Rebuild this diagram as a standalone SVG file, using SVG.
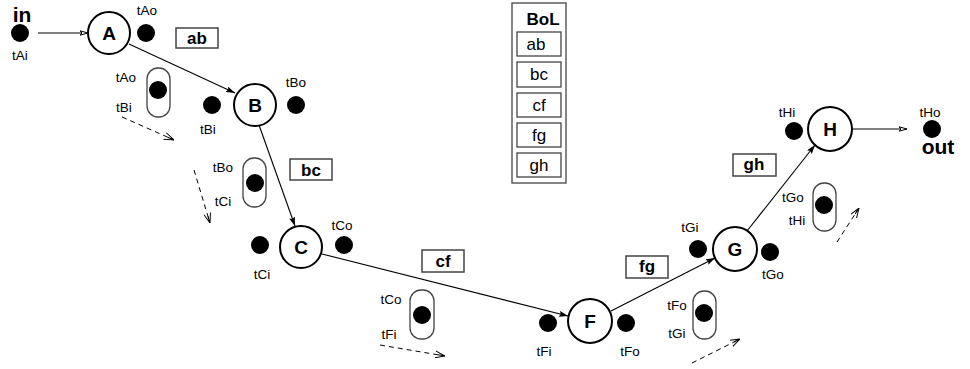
<svg xmlns="http://www.w3.org/2000/svg" width="970" height="369" viewBox="0 0 970 369">
  <style>
    .node circle { fill: #fff; stroke: #000; stroke-width: 2; }
    .node text { font: bold 19px "Liberation Sans", Arial, sans-serif; text-anchor: middle; }
    .tok { fill: #000; }
    .lbl { font: 13.5px "Liberation Sans", Arial, sans-serif; text-anchor: middle; fill: #000; }
    .big { font: bold 21px "Liberation Sans", Arial, sans-serif; text-anchor: middle; }
    .edge { stroke: #000; stroke-width: 1.1; fill: none; }
    .dash { stroke: #000; stroke-width: 1; fill: none; stroke-dasharray: 5 4; }
    .tag rect { fill: #fff; stroke: #444; stroke-width: 1.5; }
    .tag text { font: bold 17px "Liberation Sans", Arial, sans-serif; text-anchor: middle; }
    .pill { fill: #fff; stroke: #444; stroke-width: 1.3; }
    .bol rect { fill: #fff; stroke: #444; stroke-width: 1.3; }
    .bol text { font: 17px "Liberation Sans", Arial, sans-serif; text-anchor: middle; }
  </style>
  <defs>
    <marker id="solid" viewBox="0 0 9 6" refX="9" refY="3" markerWidth="9" markerHeight="6" markerUnits="userSpaceOnUse" orient="auto">
      <path d="M0,0 L9,3 L0,6 L1.5,3 Z" fill="#000"/>
    </marker>
    <marker id="hollow" viewBox="0 0 9 6" refX="8.5" refY="3" markerWidth="9" markerHeight="6" markerUnits="userSpaceOnUse" orient="auto">
      <path d="M0.5,0.8 L8.5,3 L0.5,5.2 L2.5,3 Z" fill="#fff" stroke="#000" stroke-width="1"/>
    </marker>
    <marker id="chev" viewBox="0 0 10 8" refX="10" refY="4" markerWidth="10" markerHeight="8" markerUnits="userSpaceOnUse" orient="auto">
      <path d="M0,0.5 L10,4 L0,7.5 M10,4 L3,4" fill="none" stroke="#000" stroke-width="1"/>
    </marker>
  </defs>

  <!-- connectors -->
  <g id="connectors">
    <line class="edge" x1="38" y1="33" x2="88" y2="33" marker-end="url(#hollow)"/>
    <line class="edge" x1="129" y1="44" x2="235" y2="93" marker-end="url(#solid)"/>
    <line class="edge" x1="259" y1="125" x2="295" y2="226" marker-end="url(#solid)"/>
    <line class="edge" x1="322" y1="254" x2="568" y2="316" marker-end="url(#solid)"/>
    <line class="edge" x1="611" y1="311" x2="715" y2="258" marker-end="url(#solid)"/>
    <line class="edge" x1="747" y1="231" x2="815" y2="145" marker-end="url(#solid)"/>
    <line class="edge" x1="852" y1="129" x2="907" y2="129" marker-end="url(#hollow)"/>
    <!-- token flow hints -->
    <line class="dash" x1="122" y1="117" x2="174" y2="140" marker-end="url(#chev)"/>
    <line class="dash" x1="194" y1="170" x2="210" y2="223" marker-end="url(#chev)"/>
    <line class="dash" x1="380" y1="345" x2="445" y2="356" marker-end="url(#chev)"/>
    <line class="dash" x1="692" y1="363" x2="740" y2="339" marker-end="url(#chev)"/>
    <line class="dash" x1="837" y1="242" x2="859" y2="208" marker-end="url(#chev)"/>
  </g>

  <!-- terminals -->
  <g id="in">
    <circle class="tok" cx="20" cy="33" r="9"/>
    <text class="big" x="22" y="22">in</text>
    <text class="lbl" x="20" y="60">tAi</text>
  </g>
  <g id="out">
    <circle class="tok" cx="932" cy="129" r="9"/>
    <text class="lbl" x="930" y="117">tHo</text>
    <text class="big" x="938" y="154">out</text>
  </g>

  <!-- nodes -->
  <g id="A" class="node">
    <circle cx="109" cy="33" r="21"/>
    <text x="109" y="40">A</text>
  </g>
  <g id="tA">
    <circle class="tok" cx="146" cy="33" r="9"/>
    <text class="lbl" x="147" y="15">tAo</text>
  </g>

  <g id="B" class="node">
    <circle cx="255" cy="105" r="21"/>
    <text x="255" y="112">B</text>
  </g>
  <g id="tB">
    <circle class="tok" cx="212" cy="105" r="9"/>
    <text class="lbl" x="208" y="134">tBi</text>
    <circle class="tok" cx="296" cy="105" r="9"/>
    <text class="lbl" x="296" y="87">tBo</text>
  </g>

  <g id="C" class="node">
    <circle cx="301" cy="247" r="21"/>
    <text x="301" y="254">C</text>
  </g>
  <g id="tC">
    <circle class="tok" cx="260" cy="245" r="9"/>
    <text class="lbl" x="262" y="279">tCi</text>
    <circle class="tok" cx="344" cy="245" r="9"/>
    <text class="lbl" x="342" y="230">tCo</text>
  </g>

  <g id="F" class="node">
    <circle cx="590" cy="321" r="22"/>
    <text x="590" y="328">F</text>
  </g>
  <g id="tF">
    <circle class="tok" cx="548" cy="323" r="9"/>
    <text class="lbl" x="544" y="356">tFi</text>
    <circle class="tok" cx="626" cy="323" r="9"/>
    <text class="lbl" x="630" y="356">tFo</text>
  </g>

  <g id="G" class="node">
    <circle cx="735" cy="249" r="22"/>
    <text x="735" y="256">G</text>
  </g>
  <g id="tG">
    <circle class="tok" cx="698" cy="249" r="9"/>
    <text class="lbl" x="690" y="232">tGi</text>
    <circle class="tok" cx="770" cy="252" r="9"/>
    <text class="lbl" x="773" y="279">tGo</text>
  </g>

  <g id="H" class="node">
    <circle cx="830" cy="129" r="22"/>
    <text x="830" y="136">H</text>
  </g>
  <g id="tH">
    <circle class="tok" cx="794" cy="131" r="9"/>
    <text class="lbl" x="787" y="117">tHi</text>
  </g>

  <!-- edge name tags -->
  <g id="tag-ab" class="tag"><rect x="176" y="28" width="42" height="20"/><text x="197" y="44">ab</text></g>
  <g id="tag-bc" class="tag"><rect x="290" y="159" width="42" height="21"/><text x="311" y="176">bc</text></g>
  <g id="tag-cf" class="tag"><rect x="422" y="250" width="42" height="22"/><text x="443" y="267">cf</text></g>
  <g id="tag-fg" class="tag"><rect x="626" y="256" width="42" height="22"/><text x="647" y="272">fg</text></g>
  <g id="tag-gh" class="tag"><rect x="733" y="154" width="43" height="22"/><text x="754" y="170">gh</text></g>

  <!-- shared places between transitions -->
  <g id="p-ab">
    <rect class="pill" x="147" y="68" width="23" height="49" rx="11"/>
    <circle class="tok" cx="158" cy="90" r="9"/>
    <text class="lbl" x="126" y="82">tAo</text>
    <text class="lbl" x="124" y="112">tBi</text>
  </g>
  <g id="p-bc">
    <rect class="pill" x="243" y="158" width="23" height="49" rx="11"/>
    <circle class="tok" cx="255" cy="183" r="9"/>
    <text class="lbl" x="223" y="172">tBo</text>
    <text class="lbl" x="223" y="206">tCi</text>
  </g>
  <g id="p-cf">
    <rect class="pill" x="410" y="290" width="24" height="49" rx="11"/>
    <circle class="tok" cx="422" cy="315" r="9"/>
    <text class="lbl" x="391" y="304">tCo</text>
    <text class="lbl" x="389" y="339">tFi</text>
  </g>
  <g id="p-fg">
    <rect class="pill" x="693" y="291" width="23" height="48" rx="11"/>
    <circle class="tok" cx="704" cy="313" r="9"/>
    <text class="lbl" x="677" y="310">tFo</text>
    <text class="lbl" x="677" y="338">tGi</text>
  </g>
  <g id="p-gh">
    <rect class="pill" x="813" y="183" width="23" height="48" rx="11"/>
    <circle class="tok" cx="824" cy="205" r="9"/>
    <text class="lbl" x="793" y="202">tGo</text>
    <text class="lbl" x="797" y="225">tHi</text>
  </g>

  <!-- bag of links -->
  <g id="BoL" class="bol">
    <rect x="512" y="3" width="54" height="180"/>
    <text x="543" y="25" style="font-weight:bold">BoL</text>
    <rect x="517" y="32" width="44" height="24"/><text x="536" y="50">ab</text>
    <rect x="517" y="62" width="44" height="25"/><text x="539" y="80">bc</text>
    <rect x="517" y="93" width="44" height="24"/><text x="539" y="111">cf</text>
    <rect x="517" y="123" width="44" height="24"/><text x="539" y="141">fg</text>
    <rect x="517" y="153" width="44" height="24"/><text x="539" y="171">gh</text>
  </g>
</svg>
